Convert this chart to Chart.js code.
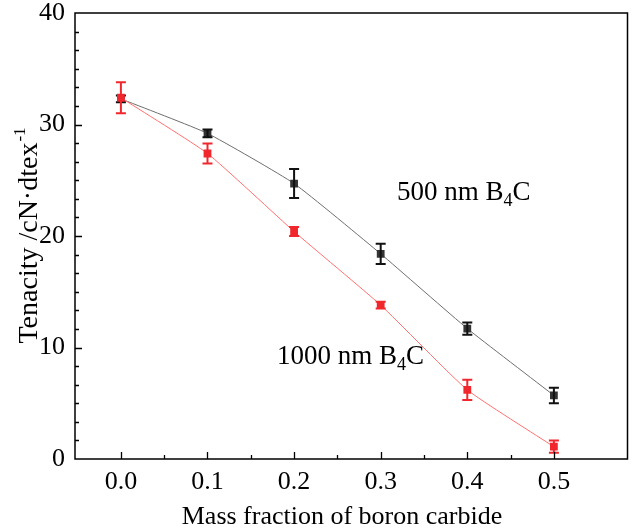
<!DOCTYPE html>
<html>
<head>
<meta charset="utf-8">
<script src="https://cdn.jsdelivr.net/npm/chart.js@4"></script>
<style>
  body { margin: 0; background: #fff; }
  #wrap { width: 633px; height: 530px; }
</style>
</head>
<body>
<div id="wrap"><canvas id="myChart" width="633" height="530"></canvas></div>
<script>
// data
let fractions = [0.0, 0.1, 0.2, 0.3, 0.4, 0.5];
let tenacity500 = [32.3, 29.2, 24.7, 18.4, 11.7, 5.7];
let err500 = [0.3, 0.35, 1.3, 0.9, 0.55, 0.7];
let tenacity1000 = [32.4, 27.4, 20.4, 13.8, 6.2, 1.1];
let err1000 = [1.4, 0.9, 0.4, 0.3, 0.9, 0.55];
let xTicks = [0.0, 0.1, 0.2, 0.3, 0.4, 0.5];
let yTicks = [0, 10, 20, 30, 40];

const serif = "'Liberation Serif', 'Times New Roman', serif";

function points(ys){
    return fractions.map((x, i) => ({x: x, y: ys[i]}));
}

// draws error bars, the frame, inward ticks and the texts
const extras = {
    id: "extras",
    afterDatasetDraw(chart, args){
        let d = args.index;
        let ds = chart.data.datasets[d];
        let ctx = chart.ctx;
        let xs = chart.scales.x, ys = chart.scales.y;
        let errs = [err500, err1000];
        let cols = ["#111111", "#f0282d"];
        ctx.save();
        ctx.strokeStyle = cols[d];
        ctx.lineWidth = 2;
        ds.data.forEach((p, i) => {
            let px = xs.getPixelForValue(p.x);
            let top = ys.getPixelForValue(p.y + errs[d][i]);
            let bot = ys.getPixelForValue(p.y - errs[d][i]);
            ctx.beginPath();
            ctx.moveTo(px, top); ctx.lineTo(px, bot);
            ctx.moveTo(px - 5, top); ctx.lineTo(px + 5, top);
            ctx.moveTo(px - 5, bot); ctx.lineTo(px + 5, bot);
            ctx.stroke();
        });
        ctx.restore();
    },
    afterDraw(chart){
        let ctx = chart.ctx;
        let a = chart.chartArea;
        let xs = chart.scales.x, ys = chart.scales.y;
        ctx.save();
        ctx.strokeStyle = "#000";
        ctx.lineWidth = 1.5;
        ctx.strokeRect(a.left, a.top, a.right - a.left, a.bottom - a.top);
        ctx.lineWidth = 1.3;
        ctx.beginPath();
        // x ticks (major + one minor)
        for (let v = 0; v <= 0.5001; v += 0.05){
            let px = Math.round(xs.getPixelForValue(v)) + 0.5;
            let major = Math.abs(v * 10 - Math.round(v * 10)) < 1e-6;
            ctx.moveTo(px, a.bottom);
            ctx.lineTo(px, a.bottom - (major ? 7 : 4));
        }
        // y ticks (major + five minor)
        for (let k = 1; k < 24; k++){
            let v = k * 10 / 6;
            let py = Math.round(ys.getPixelForValue(v)) + 0.5;
            let major = k % 6 === 0;
            ctx.moveTo(a.left, py);
            ctx.lineTo(a.left + (major ? 7 : 4), py);
        }
        ctx.stroke();

        ctx.fillStyle = "#000";
        ctx.textBaseline = "alphabetic";
        // annotations with subscript
        function label(parts, x, y){
            let cx = x;
            parts.forEach(p => {
                ctx.font = (p[1] ? "18px " : "27px ") + serif;
                ctx.fillText(p[0], cx, y + (p[1] ? 6 : 0));
                cx += ctx.measureText(p[0]).width;
            });
        }
        label([["500 nm B", 0], ["4", 1], ["C", 0]], 397, 200);
        label([["1000 nm B", 0], ["4", 1], ["C", 0]], 277, 364);

        // x title
        ctx.font = "26px " + serif;
        ctx.textAlign = "center";
        ctx.fillText("Mass fraction of boron carbide", 342, 524);

        // y title with superscript
        ctx.translate(37, 236);
        ctx.rotate(-Math.PI / 2);
        ctx.textAlign = "left";
        ctx.font = "28px " + serif;
        let main = "Tenacity /cN\u00B7dtex";
        let w1 = ctx.measureText(main).width;
        ctx.font = "17px " + serif;
        let w2 = ctx.measureText("-1").width;
        let start = -(w1 + w2) / 2;
        ctx.font = "28px " + serif;
        ctx.fillText(main, start, 0);
        ctx.font = "17px " + serif;
        ctx.fillText("-1", start + w1 + 1, -12);
        ctx.restore();
    }
};

let ctx = document.getElementById("myChart").getContext("2d");
let myChart = new Chart(ctx, {
    type: "line",
    data: {
        datasets: [{
            label: "500 nm B4C",
            data: points(tenacity500),
            borderColor: "#6e6e6e",
            borderWidth: 1,
            backgroundColor: "#333333",
            pointStyle: "rect",
            pointRadius: 5.5,
            pointBorderWidth: 0,
            tension: 0.15,
            order: 1
        }, {
            label: "1000 nm B4C",
            data: points(tenacity1000),
            borderColor: "#ff7070",
            borderWidth: 1,
            backgroundColor: "#f0282d",
            pointStyle: "rect",
            pointRadius: 5.5,
            pointBorderWidth: 0,
            tension: 0.15,
            order: 0
        }]
    },
    options: {
        responsive: false,
        animation: false,
        events: [],
        layout: { padding: { top: 13, right: 2, left: 0, bottom: 0 } },
        plugins: {
            legend: { display: false },
            title: { display: false },
            tooltip: { enabled: false }
        },
        scales: {
            x: {
                type: "linear",
                min: -0.053,
                max: 0.585,
                grid: { display: false, drawTicks: false },
                border: { display: false },
                afterBuildTicks: s => { s.ticks = xTicks.map(v => ({ value: v })); },
                afterFit: s => { s.height = 71; s.paddingLeft = 0; s.paddingRight = 0; },
                ticks: {
                    color: "#000",
                    padding: 8,
                    maxRotation: 0,
                    font: { family: serif, size: 26 },
                    callback: v => Number(v).toFixed(1)
                }
            },
            y: {
                min: 0,
                max: 40,
                grid: { display: false, drawTicks: false },
                border: { display: false },
                afterBuildTicks: s => { s.ticks = yTicks.map(v => ({ value: v })); },
                afterFit: s => { s.width = 75; s.paddingTop = 0; s.paddingBottom = 0; },
                ticks: {
                    color: "#000",
                    padding: 10,
                    font: { family: serif, size: 26 }
                }
            }
        }
    },
    plugins: [extras]
});
</script>
</body>
</html>
